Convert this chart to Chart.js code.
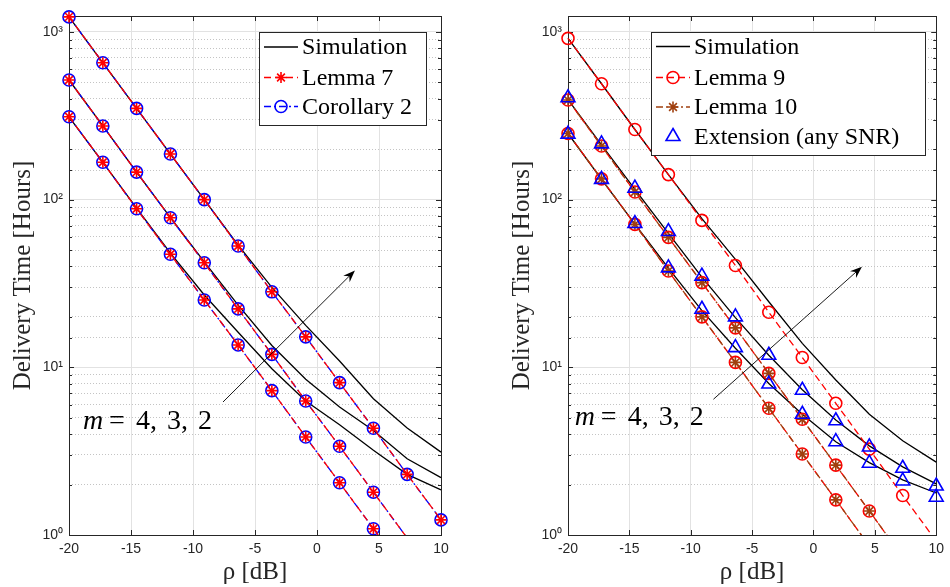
<!DOCTYPE html>
<html>
<head>
<meta charset="utf-8">
<script src="https://cdn.jsdelivr.net/npm/chart.js@4/dist/chart.umd.min.js"></script>
<style>
  body { margin: 0; background: #fff; }
  #wrap { display: flex; width: 950px; height: 587px; }
  canvas { display: block; }
</style>
</head>
<body>
<div id="wrap">
  <canvas id="left" width="475" height="587"></canvas>
  <canvas id="right" width="475" height="587"></canvas>
</div>
<script>
// x positions (rho in dB)
const rho = [-20, -17.27, -14.55, -11.82, -9.09, -6.36, -3.64, -0.91, 1.82, 4.55, 7.27, 10];
const xTicks = [-20, -15, -10, -5, 0, 5, 10];

// left panel: m = 2 (top), 3, 4 (bottom)
const simL_m2 = [1230, 655, 350, 187, 100, 53.5, 30, 17.8, 10.9, 6.5, 4.35, 3.12];
const simL_m3 = [517, 275, 146, 78, 42.5, 23.5, 13.5, 8.5, 5.8, 4.2, 2.85, 2.2];
const simL_m4 = [312, 167, 89, 48, 27, 16.2, 9.8, 6.3, 4.55, 3.2, 2.3, 1.86];
const lemma7_m2 = [1230, 655, 350, 187, 100, 52.9, 28.2, 15.2, 8.1, 4.33, 2.30, 1.23];
const lemma7_m3 = [517, 275, 146, 78, 42, 22.3, 11.95, 6.3, 3.38, 1.80, 0.96, 0.51];
const lemma7_m4 = [312, 167, 88.3, 47.2, 25.2, 13.6, 7.26, 3.84, 2.05, 1.09, 0.58, 0.31];
const cor2_m2 = [1230, 655, 350, 187, 100, 52.9, 28.2, 15.2, 8.1, 4.33, 2.30, 1.23];
const cor2_m3 = [517, 275, 146, 78, 42, 22.3, 11.95, 6.3, 3.38, 1.80, 0.96, 0.51];
const cor2_m4 = [312, 167, 88.3, 47.2, 25.2, 13.6, 7.26, 3.84, 2.05, 1.09, 0.58, 0.31];

// right panel
const simR_m2 = [916, 491, 262, 141, 77, 44, 24.6, 13.9, 8.4, 5.25, 3.65, 2.72];
const simR_m3 = [395, 212, 115, 63, 34.5, 19.8, 11.8, 7.35, 4.85, 3.4, 2.55, 2.02];
const simR_m4 = [248, 132, 71.5, 39, 21.8, 13, 8.0, 5.25, 3.6, 2.7, 2.13, 1.78];
const lemma9_m2 = [916, 491, 262, 141, 75.2, 40.5, 21.3, 11.45, 6.1, 3.25, 1.72, 0.92];
const lemma9_m3 = [393, 209, 111, 59.6, 32, 17.2, 9.2, 4.9, 2.61, 1.39, 0.74, 0.40];
const lemma9_m4 = [248, 133, 71.2, 37.5, 20.0, 10.7, 5.7, 3.04, 1.62, 0.86, 0.46, 0.25];
const lemma10_m3 = [393, 209, 111, 59.6, 32, 17.2, 9.2, 4.9, 2.61, 1.39, 0.74, 0.40];
const lemma10_m4 = [248, 133, 71.2, 37.5, 20.0, 10.7, 5.7, 3.04, 1.62, 0.86, 0.46, 0.25];
const ext_m3 = [405, 215, 117, 64.5, 35, 20.0, 11.8, 7.3, 4.8, 3.35, 2.5, 1.96];
const ext_m4 = [246, 132, 72, 39.2, 22.2, 13.1, 7.95, 5.25, 3.6, 2.68, 2.1, 1.68];

const RED = '#ff0000', BLUE = '#0000ff', BROWN = '#a0400f', BLACK = '#000000';
const AX = '#262626';
const DASH = [7, 4], DASHDOT = [7, 3, 2, 3];
const SERIF = '"Liberation Serif", serif';

Chart.defaults.font.family = '"Liberation Sans", Arial, sans-serif';

const pts = ys => ys.map((y, i) => ({ x: rho[i], y: y }));
const isDecade = v => { const l = Math.log10(v); return Math.abs(l - Math.round(l)) < 1e-6; };
const SUP = ['\u2070', '\u00b9', '\u00b2', '\u00b3'];

function ds(ys, color, dash, style, radius, showLine) {
  return {
    data: pts(ys),
    borderColor: color,
    borderWidth: showLine === false ? 0 : 1.3,
    borderDash: dash || [],
    showLine: showLine !== false,
    pointStyle: style || 'circle',
    // markers outside the y range are not drawn (like MATLAB)
    pointRadius: style ? (c => (c.raw && c.raw.y < 1 ? 0 : radius)) : 0,
    pointBorderColor: color,
    pointBackgroundColor: 'rgba(0,0,0,0)',
    pointBorderWidth: 1.6,
    tension: 0,
    clip: { left: 12, right: 12, top: 12, bottom: 0 }
  };
}

function scales(yWidth, yTitlePad) {
  return {
    x: {
      type: 'linear', min: -20, max: 10,
      afterBuildTicks: s => { s.ticks = xTicks.map(v => ({ value: v })); },
      ticks: { color: AX, font: { size: 14 }, padding: 6, maxRotation: 0, callback: v => String(v) },
      grid: { color: '#e2e2e2', drawTicks: false },
      border: { display: false },
      title: { display: true, text: 'ρ [dB]', color: AX,
               font: { family: SERIF, size: 25 }, padding: { top: 0, bottom: 0 } },
      afterFit: s => { s.height = 52; }
    },
    y: {
      type: 'logarithmic', axis: 'y', position: 'left', min: 1, max: 1245,
      ticks: { color: AX, font: { size: 14 }, padding: 6, autoSkip: false,
               callback: v => isDecade(v) ? '10' + SUP[Math.round(Math.log10(v))] : '' },
      grid: { color: c => isDecade(c.tick.value) ? '#e2e2e2' : 'rgba(0,0,0,0)', drawTicks: false },
      border: { display: false },
      title: { display: true, text: 'Delivery Time [Hours]', color: AX,
               font: { family: SERIF, size: 25 }, padding: { top: yTitlePad, bottom: 0 } },
      afterFit: s => { s.width = yWidth; }
    },
    yMinor: {
      type: 'logarithmic', axis: 'y', position: 'left', min: 1, max: 1245,
      ticks: { display: false, autoSkip: false },
      grid: { color: c => isDecade(c.tick.value) ? 'rgba(0,0,0,0)' : '#c4c4c4', drawTicks: false },
      border: { display: false, dash: [1, 2] },
      afterFit: s => { s.width = 0; }
    }
  };
}

function marker(ctx, style, r, x, y) {
  ctx.beginPath();
  if (style === 'circle') {
    ctx.arc(x, y, r, 0, Math.PI * 2);
  } else if (style === 'triangle') {
    for (let k = 0; k < 3; k++) {
      const a = k * 2 * Math.PI / 3;
      const px = x + Math.sin(a) * r, py = y - Math.cos(a) * r;
      k ? ctx.lineTo(px, py) : ctx.moveTo(px, py);
    }
    ctx.closePath();
  } else if (style === 'star') {
    const d = r * Math.SQRT1_2;
    ctx.moveTo(x - r, y); ctx.lineTo(x + r, y);
    ctx.moveTo(x, y - r); ctx.lineTo(x, y + r);
    ctx.moveTo(x - d, y - d); ctx.lineTo(x + d, y + d);
    ctx.moveTo(x - d, y + d); ctx.lineTo(x + d, y - d);
  }
  ctx.stroke();
}

// axes box, inner ticks, legend, arrow and label
function overlay(cfg) {
  return {
    id: 'overlay',
    beforeDatasetsDraw(chart) {
      const { ctx, chartArea: a, scales: s } = chart;
      ctx.save();
      ctx.strokeStyle = AX; ctx.lineWidth = 1;
      s.x.ticks.forEach(t => {
        const px = Math.round(s.x.getPixelForValue(t.value)) + 0.5;
        ctx.beginPath();
        ctx.moveTo(px, a.bottom); ctx.lineTo(px, a.bottom - 5);
        ctx.moveTo(px, a.top); ctx.lineTo(px, a.top + 5);
        ctx.stroke();
      });
      s.y.ticks.forEach(t => {
        const py = Math.round(s.y.getPixelForValue(t.value)) + 0.5;
        const len = isDecade(t.value) ? 5 : 3;
        ctx.beginPath();
        ctx.moveTo(a.left, py); ctx.lineTo(a.left + len, py);
        ctx.moveTo(a.right, py); ctx.lineTo(a.right - len, py);
        ctx.stroke();
      });
      ctx.strokeRect(Math.round(a.left) + 0.5, Math.round(a.top) + 0.5,
                     Math.round(a.right - a.left), Math.round(a.bottom - a.top));
      ctx.restore();
    },
    afterDraw(chart) {
      const { ctx, scales: s } = chart;
      ctx.save();
      // arrow
      const x0 = s.x.getPixelForValue(cfg.arrow[0]), y0 = s.y.getPixelForValue(cfg.arrow[1]);
      const x1 = s.x.getPixelForValue(cfg.arrow[2]), y1 = s.y.getPixelForValue(cfg.arrow[3]);
      const ang = Math.atan2(y1 - y0, x1 - x0);
      const c = Math.cos(ang), sn = Math.sin(ang);
      ctx.strokeStyle = BLACK; ctx.fillStyle = BLACK; ctx.lineWidth = 0.9;
      ctx.beginPath(); ctx.moveTo(x0, y0);
      ctx.lineTo(x1 - 8 * c, y1 - 8 * sn); ctx.stroke();
      ctx.beginPath();
      ctx.moveTo(x1, y1);
      ctx.lineTo(x1 - 12 * c + 4.5 * sn, y1 - 12 * sn - 4.5 * c);
      ctx.lineTo(x1 - 8 * c, y1 - 8 * sn);
      ctx.lineTo(x1 - 12 * c - 4.5 * sn, y1 - 12 * sn + 4.5 * c);
      ctx.closePath(); ctx.fill();
      // label m = 4, 3, 2
      const tx = s.x.getPixelForValue(cfg.label[0]), ty = s.y.getPixelForValue(cfg.label[1]);
      ctx.textBaseline = 'alphabetic'; ctx.textAlign = 'left';
      ctx.font = 'italic 28px ' + SERIF;
      ctx.fillText('m', tx, ty);
      ctx.font = '28px ' + SERIF;
      [['=', 26], ['4,', 53], ['3,', 84], ['2', 115]].forEach(p => ctx.fillText(p[0], tx + p[1], ty));
      // legend
      const L = cfg.legend;
      ctx.fillStyle = '#fff'; ctx.strokeStyle = AX; ctx.lineWidth = 1;
      ctx.fillRect(L.x, L.y, L.w, L.h);
      ctx.strokeRect(L.x + 0.5, L.y + 0.5, L.w, L.h);
      L.items.forEach((it, i) => {
        const cy = L.y + L.rows[i];
        ctx.strokeStyle = it.color;
        if (it.line) {
          ctx.lineWidth = 1.3; ctx.setLineDash(it.dash || []);
          ctx.beginPath(); ctx.moveTo(L.x + 5, cy); ctx.lineTo(L.x + 39, cy); ctx.stroke();
          ctx.setLineDash([]);
        }
        if (it.style) { ctx.lineWidth = 1.6; marker(ctx, it.style, it.r, L.x + 22, cy); }
        ctx.fillStyle = BLACK; ctx.textBaseline = 'middle';
        ctx.font = '24px ' + SERIF;
        ctx.fillText(it.label, L.x + 43, cy + 1);
      });
      ctx.restore();
    }
  };
}

const common = {
  responsive: false, animation: false, events: [],
  plugins: { legend: { display: false }, tooltip: { enabled: false } }
};

new Chart(document.getElementById('left'), {
  type: 'line',
  data: {
    datasets: [
      ds(lemma7_m2, RED, DASH, 'star', 5.5), ds(lemma7_m3, RED, DASH, 'star', 5.5), ds(lemma7_m4, RED, DASH, 'star', 5.5),
      ds(cor2_m2, BLUE, DASHDOT, 'circle', 6), ds(cor2_m3, BLUE, DASHDOT, 'circle', 6), ds(cor2_m4, BLUE, DASHDOT, 'circle', 6),
      ds(simL_m2, BLACK), ds(simL_m3, BLACK), ds(simL_m4, BLACK)
    ]
  },
  options: Object.assign({}, common, {
    layout: { padding: { top: 16, right: 34, left: 0, bottom: 0 } },
    scales: scales(69, 8)
  }),
  plugins: [overlay({
    arrow: [-7.58, 6.21, 3.06, 37.8],
    label: [-18.87, 4.3],
    legend: { x: 259, y: 32, w: 167, h: 93, rows: [15, 45.5, 74.5], items: [
      { label: 'Simulation', color: BLACK, line: true },
      { label: 'Lemma 7', color: RED, line: true, dash: DASH, style: 'star', r: 5.5 },
      { label: 'Corollary 2', color: BLUE, line: true, dash: DASHDOT, style: 'circle', r: 6 }
    ] }
  })]
});

new Chart(document.getElementById('right'), {
  type: 'line',
  data: {
    datasets: [
      ds(ext_m3, BLUE, [], 'triangle', 8, false), ds(ext_m4, BLUE, [], 'triangle', 8, false),
      ds(lemma10_m3, BROWN, DASHDOT, 'star', 5.5), ds(lemma10_m4, BROWN, DASHDOT, 'star', 5.5),
      ds(lemma9_m2, RED, DASH, 'circle', 6), ds(lemma9_m3, RED, DASH, 'circle', 6), ds(lemma9_m4, RED, DASH, 'circle', 6),
      ds(simR_m2, BLACK), ds(simR_m3, BLACK), ds(simR_m4, BLACK)
    ]
  },
  options: Object.assign({}, common, {
    layout: { padding: { top: 16, right: 10, left: 0, bottom: 0 } },
    scales: scales(93, 32)
  }),
  plugins: [overlay({
    arrow: [-8.15, 6.45, 3.95, 39.8],
    label: [-19.44, 4.5],
    legend: { x: 176, y: 32, w: 274, h: 123, rows: [14.5, 45.5, 75, 104.5], items: [
      { label: 'Simulation', color: BLACK, line: true },
      { label: 'Lemma 9', color: RED, line: true, dash: DASH, style: 'circle', r: 6 },
      { label: 'Lemma 10', color: BROWN, line: true, dash: DASHDOT, style: 'star', r: 5.5 },
      { label: 'Extension (any SNR)', color: BLUE, line: false, style: 'triangle', r: 8 }
    ] }
  })]
});
</script>
</body>
</html>
